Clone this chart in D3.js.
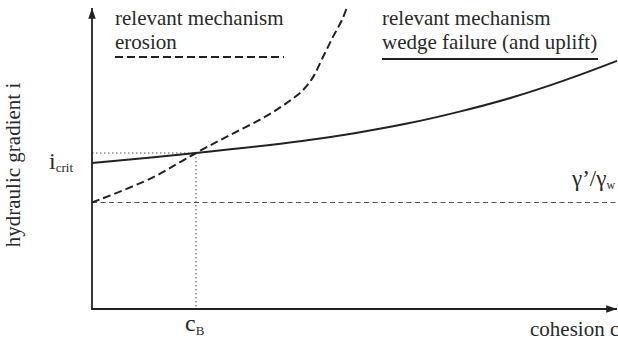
<!DOCTYPE html>
<html>
<head>
<meta charset="utf-8">
<script src="https://cdn.jsdelivr.net/npm/d3@7"></script>
<style>
  html, body { margin: 0; padding: 0; background: #fff; }
  svg { display: block; }
</style>
</head>
<body>
<svg id="chart" width="618" height="347"></svg>
<script>
// Qualitative curves: hydraulic gradient i against cohesion c (arbitrary units)
const wedgeC = [0, 1.98, 4, 5, 6, 7, 8, 9, 10];
const wedgeI = [4.87, 5.2, 5.6, 5.86, 6.18, 6.58, 7.05, 7.62, 8.27];

const erosionC = [0, 1.14, 1.98, 2.63, 3.26, 3.71, 4.02, 4.21, 4.40, 4.59, 4.76, 4.86];
const erosionI = [3.55, 4.37, 5.2, 5.8, 6.37, 6.87, 7.3, 7.73, 8.4, 9.07, 9.63, 10.07];

const cB = 1.98;          // cohesion at which both mechanisms coincide
const iCrit = 5.2;        // critical hydraulic gradient
const buoyRatio = 3.55;   // γ'/γw

const legendLines = ["relevant mechanism", "erosion"];
const legendLines2 = ["relevant mechanism", "wedge failure (and uplift)"];

const FONT = "'Liberation Serif', 'DejaVu Serif', 'Times New Roman', serif";
const textInk = "#2a2a2a";

const svg = d3.select("#chart");
const x = d3.scaleLinear().domain([0, 10]).range([92, 617]);
const y = d3.scaleLinear().domain([0, 10]).range([309, 9]);

const ink = "#222";

function label(px, py, size) {
  return svg.append("text")
    .attr("x", px).attr("y", py)
    .attr("font-family", FONT)
    .attr("font-size", size)
    .attr("fill", textInk);
}

// arrowheads
const defs = svg.append("defs");
defs.append("marker")
  .attr("id", "arrow")
  .attr("viewBox", "0 0 10 10")
  .attr("refX", 10).attr("refY", 5)
  .attr("markerWidth", 6).attr("markerHeight", 6)
  .attr("markerUnits", "strokeWidth")
  .attr("orient", "auto")
  .append("path").attr("d", "M0,1.5 L10,5 L0,8.5 Z").attr("fill", ink);

// reference lines
svg.append("line")
  .attr("x1", x(0)).attr("x2", x(10))
  .attr("y1", y(buoyRatio)).attr("y2", y(buoyRatio))
  .attr("stroke", "#555").attr("stroke-width", 1.1)
  .attr("stroke-dasharray", "5,3.5");

svg.append("line")
  .attr("x1", x(0)).attr("x2", x(cB))
  .attr("y1", y(iCrit)).attr("y2", y(iCrit))
  .attr("stroke", "#555").attr("stroke-width", 1.1)
  .attr("stroke-dasharray", "1.5,2.5");

svg.append("line")
  .attr("x1", x(cB)).attr("x2", x(cB))
  .attr("y1", y(iCrit)).attr("y2", y(0))
  .attr("stroke", "#555").attr("stroke-width", 1.1)
  .attr("stroke-dasharray", "1.5,2.5");

// axes
svg.append("line")
  .attr("x1", x(0)).attr("y1", y(0))
  .attr("x2", x(0)).attr("y2", y(10) - 1)
  .attr("stroke", ink).attr("stroke-width", 1.8)
  .attr("marker-end", "url(#arrow)");

svg.append("line")
  .attr("x1", x(0) - 0.9).attr("y1", y(0))
  .attr("x2", x(10)).attr("y2", y(0))
  .attr("stroke", ink).attr("stroke-width", 1.8)
  .attr("marker-end", "url(#arrow)");

// curves
const line = d3.line().x(d => x(d[0])).y(d => y(d[1])).curve(d3.curveCatmullRom.alpha(0.5));

svg.append("path")
  .datum(d3.zip(wedgeC, wedgeI))
  .attr("d", line)
  .attr("fill", "none").attr("stroke", ink).attr("stroke-width", 2);

svg.append("path")
  .datum(d3.zip(erosionC, erosionI))
  .attr("d", line)
  .attr("fill", "none").attr("stroke", ink).attr("stroke-width", 2)
  .attr("stroke-dasharray", "8,4");

// legends
const fs = 21;
function legend(x0, lines, dashed, x1, lineY) {
  lines.forEach((t, k) => label(x0, 25 + k * 24, fs).text(t));
  svg.append("line")
    .attr("x1", x0).attr("x2", x1).attr("y1", lineY).attr("y2", lineY)
    .attr("stroke", ink).attr("stroke-width", 2)
    .attr("stroke-dasharray", dashed ? "8,4" : null);
}
legend(115, legendLines, true, 284, 57);
legend(382, legendLines2, false, 598, 59);

// axis titles
label(0, 0, fs)
  .attr("transform", `translate(20,${165}) rotate(-90)`)
  .attr("text-anchor", "middle")
  .text("hydraulic gradient i");

label(530, 336, fs).text("cohesion c");

// symbol labels
const iLab = label(49, y(iCrit) + 16, 24);
iLab.append("tspan").text("i");
iLab.append("tspan").attr("font-size", 13).attr("dy", 3).text("crit");

const cLab = label(185, 331, 24);
cLab.append("tspan").text("c");
cLab.append("tspan").attr("font-size", 13).attr("dy", 4).text("B");

const gLab = label(572, y(buoyRatio) - 17, 23);
gLab.append("tspan").text("γ’/γ");
gLab.append("tspan").attr("font-size", 12).attr("dy", 3).text("w");
</script>
</body>
</html>
